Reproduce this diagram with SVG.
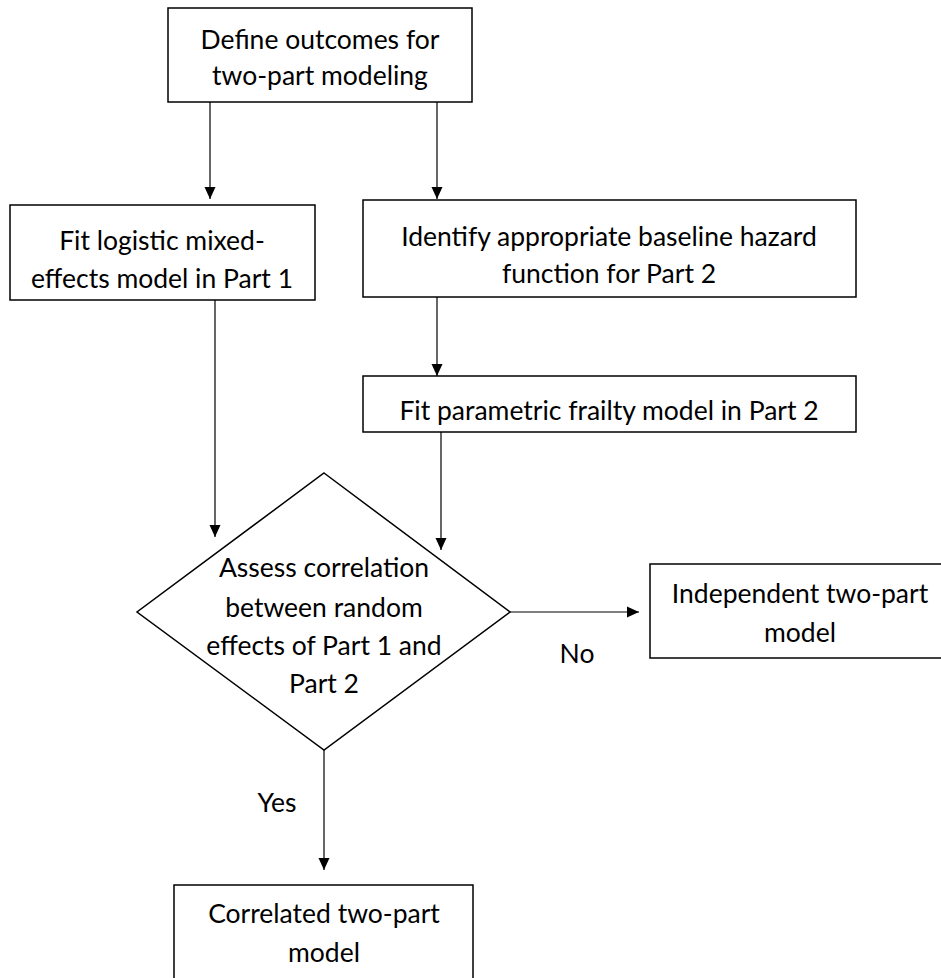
<svg xmlns="http://www.w3.org/2000/svg" width="941" height="978" viewBox="0 0 941 978">
<style>
.box{fill:#fff;stroke:#000;stroke-width:1.5}
.t{font-family:Lato,"Open Sans","Liberation Sans",sans-serif;font-size:26.5px;fill:#000;text-anchor:middle}
.c{fill:none;stroke:#000;stroke-width:1.2}
</style>
<defs>
<marker id="ah" viewBox="0 0 12 12" refX="12" refY="6" markerWidth="12" markerHeight="12" markerUnits="userSpaceOnUse" orient="auto">
<path d="M0,0.5 L12,6 L0,11.5 Z" fill="#000"/>
</marker>
</defs>
<rect width="941" height="978" fill="#fff"/>
<g id="connectors">
<line class="c" x1="210" y1="102" x2="210" y2="199" marker-end="url(#ah)"/>
<line class="c" x1="437" y1="102" x2="437" y2="199" marker-end="url(#ah)"/>
<line class="c" x1="437" y1="297" x2="437" y2="376" marker-end="url(#ah)"/>
<line class="c" x1="215" y1="300" x2="215" y2="537" marker-end="url(#ah)"/>
<line class="c" x1="441" y1="432" x2="441" y2="550" marker-end="url(#ah)"/>
<line class="c" x1="510" y1="612" x2="639" y2="612" marker-end="url(#ah)"/>
<line class="c" x1="324" y1="750" x2="324" y2="870" marker-end="url(#ah)"/>
<text class="t" x="577" y="663">No</text>
<text class="t" x="277" y="812">Yes</text>
</g>
<g id="define">
<rect class="box" x="168" y="8" width="304" height="94"/>
<text class="t" x="320" y="49">Define outcomes for</text>
<text class="t" x="320" y="85">two-part modeling</text>
</g>
<g id="logistic">
<rect class="box" x="10" y="205" width="305" height="95"/>
<text class="t" x="162" y="250">Fit logistic mixed-</text>
<text class="t" x="162" y="288">effects model in Part 1</text>
</g>
<g id="hazard">
<rect class="box" x="363" y="200" width="493" height="97"/>
<text class="t" x="609" y="246">Identify appropriate baseline hazard</text>
<text class="t" x="609" y="283">function for Part 2</text>
</g>
<g id="frailty">
<rect class="box" x="363" y="376" width="493" height="56"/>
<text class="t" x="609" y="420">Fit parametric frailty model in Part 2</text>
</g>
<g id="assess">
<polygon class="box" points="324,473 510,612 324,750 137,612"/>
<text class="t" x="324" y="577">Assess correlation</text>
<text class="t" x="324" y="617">between random</text>
<text class="t" x="324" y="655">effects of Part 1 and</text>
<text class="t" x="324" y="693">Part 2</text>
</g>
<g id="independent">
<rect class="box" x="650" y="564" width="300" height="94"/>
<text class="t" x="800" y="603">Independent two-part</text>
<text class="t" x="800" y="642">model</text>
</g>
<g id="correlated">
<rect class="box" x="174" y="885" width="299" height="100"/>
<text class="t" x="324" y="923">Correlated two-part</text>
<text class="t" x="324" y="962">model</text>
</g>
</svg>
